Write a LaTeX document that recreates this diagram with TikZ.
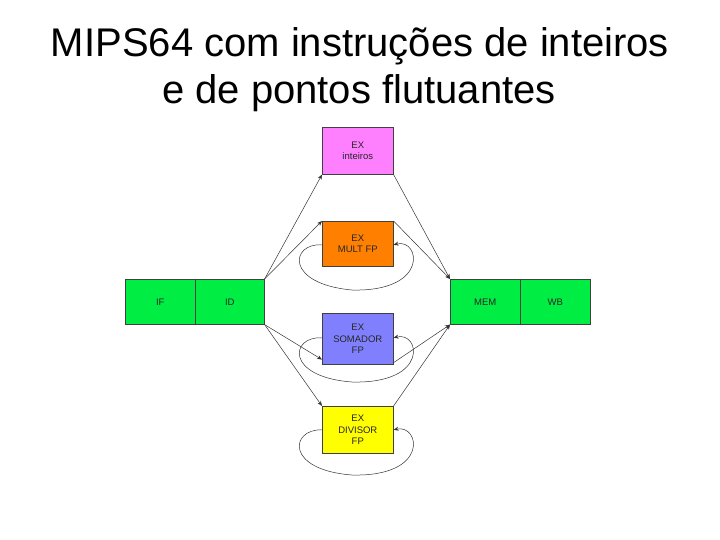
\documentclass[tikz,border=0pt]{standalone}
\usepackage{fontspec}
\setmainfont{Liberation Sans}
\usetikzlibrary{arrows.meta}
\definecolor{stgreen}{HTML}{00EE44}
\definecolor{stpink}{HTML}{FF80FF}
\definecolor{storange}{HTML}{FF8000}
\definecolor{stblue}{HTML}{8080FF}
\definecolor{styellow}{HTML}{FFFF00}
\begin{document}
\begin{tikzpicture}[x=1pt,y=-1pt,
  stage/.style={draw=black!75,line width=0.6pt,minimum width=70pt,minimum height=45pt,inner sep=0pt,
    font=\fontsize{9.5}{11.5}\selectfont,text=black!85,align=center,anchor=north west},
  conn/.style={draw=black!80,line width=0.5pt,-{Stealth[length=5pt,width=4pt]}},
  loopc/.style={draw=black!80,line width=0.5pt,-{Stealth[length=5pt,width=4pt]}},
  title/.style={font=\fontsize{40}{48}\selectfont,anchor=base,inner sep=0pt}]
\useasboundingbox (0,0) rectangle (720,540);
\node[title] (t1) at (360,57) {MIPS64 com instruções de inteiros};
\node[title] (t2) at (359,104) {e de pontos flutuantes};
% pipeline stages
\node[stage,fill=stgreen,minimum width=70pt] (if) at (125,279) {IF};
\node[stage,fill=stgreen,minimum width=69pt] (id) at (195,279) {ID};
\node[stage,fill=stgreen,minimum width=70pt] (mem) at (450,279) {MEM};
\node[stage,fill=stgreen,minimum width=70pt] (wb) at (520,279) {WB};
\node[stage,fill=stpink,minimum width=71pt,minimum height=47pt] (int) at (322,127) {EX\\inteiros};
\node[stage,fill=storange,minimum width=71pt,minimum height=45pt] (mult) at (322,221) {EX\\MULT FP};
\node[stage,fill=stblue,minimum width=71pt,minimum height=51pt] (som) at (322,313) {EX\\SOMADOR\\FP};
\node[stage,fill=styellow,minimum width=71pt,minimum height=47pt] (div) at (322,406) {EX\\DIVISOR\\FP};
% connectors ID -> EX
\draw[conn] (id.north east) -- (int.south west);
\draw[conn] (id.north east) -- (mult.north west);
\draw[conn] (id.south east) -- ([yshift=5pt]som.south west);
\draw[conn] (id.south east) -- (div.north west);
% EX -> MEM
\draw[conn] (int.south east) -- (mem.north west);
\draw[conn] (mult.north east) -- (mem.north west);
\draw[conn] ([yshift=2pt]som.south east) -- (mem.south west);
\draw[conn] (div.north east) -- (mem.south west);
% loops
\draw[loopc] ([yshift=-1pt]mult.west) .. controls (290,243) and (285,284) .. (352,290)
  .. controls (430,292) and (420,238) .. ([yshift=-1pt]mult.east);
\draw[loopc] ([yshift=1pt]som.west) .. controls (290,336) and (285,377) .. (352,382)
  .. controls (430,384) and (420,331) .. ([yshift=1pt]som.east);
\draw[loopc] (div.west) .. controls (290,429) and (285,470) .. (352,475)
  .. controls (430,477) and (420,424) .. (div.east);
\end{tikzpicture}
\end{document}
